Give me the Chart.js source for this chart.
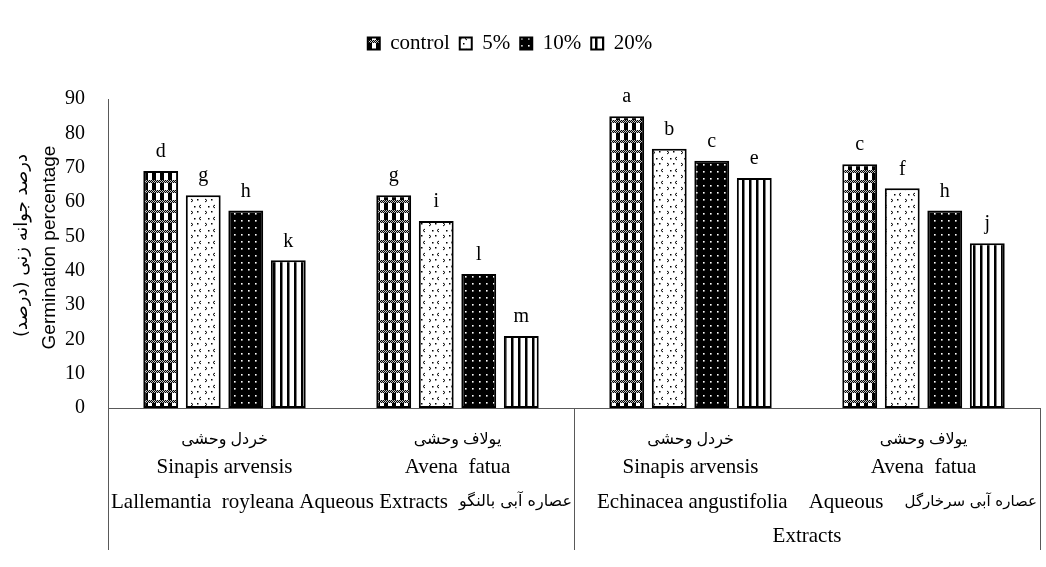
<!DOCTYPE html>
<html>
<head>
<meta charset="utf-8">
<script src="https://cdn.jsdelivr.net/npm/chart.js@4.4.1/dist/chart.umd.min.js"></script>
<style>
  html, body { margin: 0; padding: 0; background: #fff; }
  #wrap { width: 1046px; height: 567px; position: relative; }
</style>
</head>
<body>
<div id="wrap"><canvas id="chart"></canvas></div>
<script>
// data
const categories = ['Sinapis arvensis', 'Avena  fatua', 'Sinapis arvensis', 'Avena  fatua'];
const categoriesFa = ['خردل وحشی', 'یولاف وحشی', 'خردل وحشی', 'یولاف وحشی'];
const extractNames = ['Lallemantia  royleana Aqueous Extracts', 'Echinacea angustifolia    Aqueous'];
const extractNamesFa = ['عصاره آبی بالنگو', 'عصاره آبی سرخارگل'];
const seriesNames = ['control', '5%', '10%', '20%'];
const controlValues = [69, 62, 85, 71];
const pct5Values = [62, 54.5, 75.5, 64];
const pct10Values = [57.5, 39, 72, 57.5];
const pct20Values = [43, 21, 67, 48];
const controlLetters = ['d', 'g', 'a', 'c'];
const pct5Letters = ['g', 'i', 'b', 'f'];
const pct10Letters = ['h', 'l', 'c', 'h'];
const pct20Letters = ['k', 'm', 'e', 'j'];
const yTicks = [0, 10, 20, 30, 40, 50, 60, 70, 80, 90];

const serif = "'Liberation Serif', 'DejaVu Sans', serif";
const axisColor = '#595959';

function makeTile(w, h, draw) {
    const c = document.createElement('canvas');
    c.width = w; c.height = h;
    const g = c.getContext('2d');
    draw(g);
    return document.getElementById('chart').getContext('2d').createPattern(c, 'repeat');
}

// checkered with dotted bands
const patControl = makeTile(8, 10, g => {
    g.fillStyle = '#fff'; g.fillRect(0, 0, 8, 10);
    g.fillStyle = '#000'; g.fillRect(0, 3, 4, 7);
    for (let x = 0; x < 8; x++) {
        g.fillStyle = (x % 2) ? '#000' : '#bbb';
        g.fillRect(x, 0, 1, 1);
        g.fillStyle = (x % 2) ? '#ccc' : '#000';
        g.fillRect(x, 1, 1, 1);
        g.fillStyle = (x % 2) ? '#000' : '#bbb';
        g.fillRect(x, 2, 1, 1);
    }
});
// white with little chevrons
const patPct5 = makeTile(14, 12, g => {
    g.fillStyle = '#fff'; g.fillRect(0, 0, 14, 12);
    g.strokeStyle = '#000'; g.lineWidth = 1;
    g.beginPath();
    g.moveTo(5, 1); g.lineTo(3, 2.5); g.lineTo(5, 4);
    g.moveTo(9, 7); g.lineTo(11, 8.5); g.lineTo(9, 10);
    g.stroke();
    g.fillStyle = '#000';
    g.fillRect(1, 7, 1.5, 1.5);
    g.fillRect(12, 2, 1.5, 1.5);
});
// black with white dots
const patPct10 = makeTile(7, 7, g => {
    g.fillStyle = '#000'; g.fillRect(0, 0, 7, 7);
    g.fillStyle = '#fff'; g.fillRect(3, 3, 1.6, 1.6);
});
// vertical stripes
const patPct20 = makeTile(7, 4, g => {
    g.fillStyle = '#fff'; g.fillRect(0, 0, 7, 4);
    g.fillStyle = '#000'; g.fillRect(0, 0, 2.5, 4);
});

const seriesValues = [controlValues, pct5Values, pct10Values, pct20Values];
const seriesLetters = [controlLetters, pct5Letters, pct10Letters, pct20Letters];
const seriesPatterns = [patControl, patPct5, patPct10, patPct20];

// extra room under the legend, and nudge it a bit left
const legendGap = {
    id: 'legendGap',
    beforeInit(chart) {
        const fit = chart.legend.fit;
        chart.legend.fit = function () {
            fit.bind(chart.legend)();
            this.height += 35;
        };
    },
    afterLayout(chart) {
        chart.legend.left -= 10;
        chart.legend.right -= 10;
    }
};

const annotations = {
    id: 'annotations',
    afterDatasetsDraw(chart) {
        const ctx = chart.ctx;
        ctx.save();
        ctx.fillStyle = '#000';
        ctx.font = '20px ' + serif;
        ctx.textAlign = 'center';
        ctx.textBaseline = 'bottom';
        chart.data.datasets.forEach((ds, i) => {
            chart.getDatasetMeta(i).data.forEach((bar, j) => {
                ctx.fillText(seriesLetters[i][j], bar.x, bar.y - 9);
            });
        });
        ctx.restore();
    },
    afterDraw(chart) {
        const ctx = chart.ctx;
        const area = chart.chartArea;
        const xs = chart.scales.x;
        ctx.save();
        // separators under the axis
        const mid = (xs.getPixelForValue(1) + xs.getPixelForValue(2)) / 2;
        ctx.strokeStyle = axisColor;
        ctx.lineWidth = 1;
        ctx.beginPath();
        [area.left, mid, area.right].forEach(x => {
            ctx.moveTo(Math.round(x) + 0.5, area.bottom);
            ctx.lineTo(Math.round(x) + 0.5, 550);
        });
        ctx.stroke();

        ctx.fillStyle = '#000';
        ctx.textAlign = 'center';
        ctx.textBaseline = 'middle';
        categories.forEach((c, i) => {
            const x = xs.getPixelForValue(i);
            ctx.font = '16px ' + serif;
            ctx.fillText(categoriesFa[i], x, 440);
            ctx.font = '21px ' + serif;
            ctx.fillText(c, x, 467);
        });
        // extract group labels: latin on the left, persian on the right
        const groupSpans = [[area.left + 3, mid - 2], [mid + 23, area.right - 3]];
        const faSizes = [16, 15];
        groupSpans.forEach(([l, r], i) => {
            ctx.textAlign = 'left';
            ctx.font = '21px ' + serif;
            ctx.fillText(extractNames[i], l, 502);
            ctx.textAlign = 'right';
            ctx.font = faSizes[i] + "px 'DejaVu Sans', sans-serif";
            ctx.fillText(extractNamesFa[i], r, 502);
        });
        ctx.textAlign = 'center';
        ctx.font = '21px ' + serif;
        ctx.fillText('Extracts', (mid + area.right) / 2, 536);

        // y titles
        const cy = (area.top + area.bottom) / 2;
        ctx.translate(50, cy - 6);
        ctx.rotate(-Math.PI / 2);
        ctx.font = "19px 'Liberation Sans', Arial, sans-serif";
        ctx.fillText('Germination percentage', 0, 0);
        ctx.setTransform(1, 0, 0, 1, 0, 0);
        ctx.translate(22, cy - 8);
        ctx.rotate(-Math.PI / 2);
        ctx.font = "18px 'DejaVu Sans', sans-serif";
        ctx.fillText('درصد جوانه زنی (درصد)', 0, 0);
        ctx.restore();
    }
};

new Chart(document.getElementById('chart'), {
    type: 'bar',
    data: {
        labels: categories,
        datasets: seriesNames.map((name, i) => ({
            label: name,
            data: seriesValues[i],
            backgroundColor: seriesPatterns[i],
            borderColor: '#000',
            borderWidth: 2,
            borderSkipped: false,
            categoryPercentage: 0.73,
            barPercentage: 0.82
        }))
    },
    options: {
        responsive: true,
        maintainAspectRatio: false,
        animation: false,
        devicePixelRatio: 1,
        layout: { padding: { left: 0, right: 6, top: 23, bottom: 0 } },
        plugins: {
            legend: {
                display: true,
                position: 'top',
                align: 'center',
                labels: {
                    color: '#000',
                    font: { family: serif, size: 21 },
                    boxWidth: 12,
                    boxHeight: 12,
                    padding: 10,
                    useBorderRadius: false
                }
            },
            tooltip: { enabled: false }
        },
        scales: {
            x: {
                grid: { display: false },
                border: { display: true, color: axisColor, width: 1 },
                ticks: { display: false },
                afterFit: s => { s.height = 159; }
            },
            y: {
                min: 0,
                max: 90,
                afterBuildTicks: s => { s.ticks = yTicks.map(v => ({ value: v })); },
                grid: { display: false },
                border: { display: true, color: axisColor, width: 1 },
                ticks: {
                    color: '#000',
                    font: { family: serif, size: 20 },
                    padding: 15
                },
                afterFit: s => { s.width = 108; }
            }
        }
    },
    plugins: [legendGap, annotations]
});
</script>
</body>
</html>
